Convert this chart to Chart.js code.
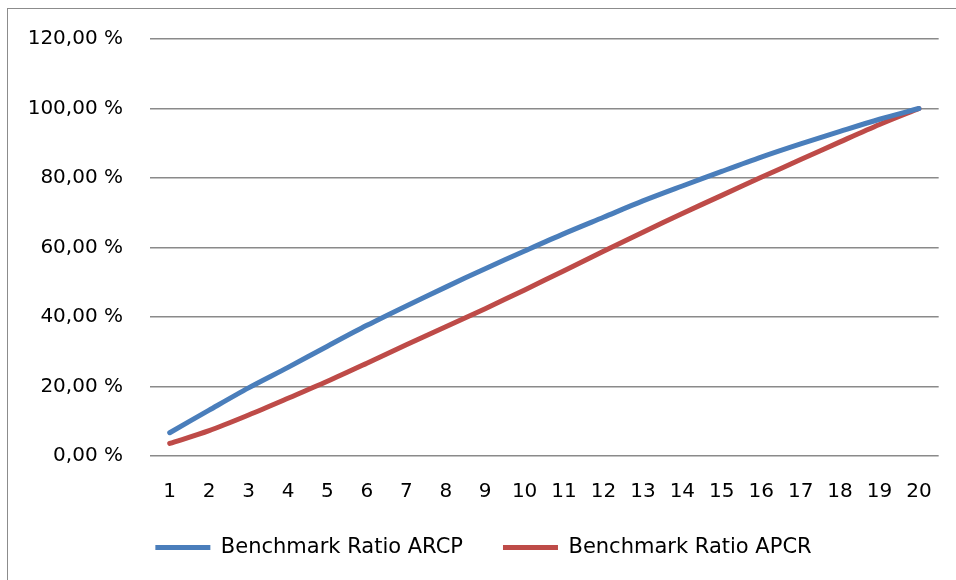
<!DOCTYPE html>
<html>
<head>
<meta charset="utf-8">
<script src="https://cdn.jsdelivr.net/npm/chart.js@4"></script>
<style>
    body { margin: 0; background: #fff; overflow: hidden; }
    #frame { position: absolute; left: 7px; top: 8px; width: 980px; height: 600px; border: 1px solid #8c8c8c; }
    #benchmarkChart { position: absolute; left: 0; top: 0; }
</style>
</head>
<body>
<div id="frame"></div>
<canvas id="benchmarkChart" width="956" height="580"></canvas>
<script>
const years = ["1", "2", "3", "4", "5", "6", "7", "8", "9", "10", "11", "12", "13", "14", "15", "16", "17", "18", "19", "20"];
const arcpRatio = [6.7, 13.2, 19.6, 25.5, 31.6, 37.6, 43.2, 48.6, 53.9, 59.0, 64.0, 68.7, 73.4, 77.7, 81.9, 86.0, 89.8, 93.4, 96.9, 100];
const apcrRatio = [3.6, 7.3, 11.8, 16.6, 21.5, 26.7, 32.0, 37.2, 42.4, 47.8, 53.3, 58.9, 64.4, 69.8, 75.0, 80.2, 85.3, 90.4, 95.4, 100];
const yTicks = [0, 20, 40, 60, 80, 100, 120];

document.addEventListener("DOMContentLoaded", function () {
    const ctx = document.getElementById("benchmarkChart");

    new Chart(ctx, {
        type: 'line',
        data: {
            labels: years,
            datasets: [
                {
                    label: "Benchmark Ratio ARCP",
                    borderColor: "#4a7ebb",
                    backgroundColor: "#4a7ebb",
                    borderWidth: 5,
                    borderCapStyle: 'round',
                    tension: 0.3,
                    pointRadius: 0,
                    data: arcpRatio,
                },
                {
                    label: "Benchmark Ratio APCR",
                    borderColor: "#be4b48",
                    backgroundColor: "#be4b48",
                    borderWidth: 5,
                    borderCapStyle: 'round',
                    tension: 0.3,
                    pointRadius: 0,
                    data: apcrRatio,
                }
            ]
        },
        options: {
            responsive: false,
            animation: false,
            layout: { padding: { left: 24, right: 13, top: 38, bottom: 12 } },
            scales: {
                x: {
                    offset: true,
                    grid: { display: false, drawTicks: false },
                    border: { display: false },
                    ticks: { color: "#000", padding: 24, maxRotation: 0, autoSkip: false,
                             font: { family: "'DejaVu Sans'", size: 20 } },
                    afterFit: axis => { axis.height = 41; },
                },
                y: {
                    min: 0,
                    max: 120,
                    afterBuildTicks: axis => { axis.ticks = yTicks.map(v => ({ value: v })); },
                    grid: { color: "#8a8a8a", lineWidth: 1.5, drawTicks: false },
                    border: { display: false },
                    ticks: {
                        color: "#000",
                        padding: 27,
                        font: { family: "'DejaVu Sans'", size: 20 },
                        callback: v => v.toFixed(2).replace('.', ',') + ' %'
                    },
                    afterFit: axis => { axis.width = 126; },
                },
            },
            plugins: {
                tooltip: { enabled: false },
                legend: {
                    display: true,
                    position: 'bottom',
                    labels: {
                        color: "#000",
                        usePointStyle: true,
                        pointStyle: 'line',
                        pointStyleWidth: 55,
                        padding: 40,
                        font: { family: "'DejaVu Sans'", size: 21 },
                    }
                }
            }
        }
    });
});
</script>
</body>
</html>
